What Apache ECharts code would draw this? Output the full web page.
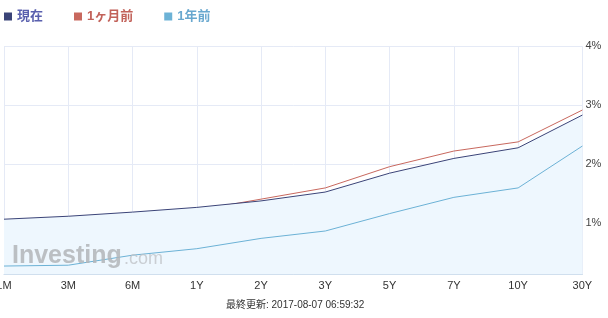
<!DOCTYPE html>
<html>
<head>
<meta charset="utf-8">
<script src="https://cdn.jsdelivr.net/npm/echarts@6/dist/echarts.min.js"></script>
<style>
html,body{margin:0;padding:0;background:#fff;}
#c{width:608px;height:318px;}
</style>
</head>
<body>
<div id="c"></div>
<script>
const categories = ['1M','3M','6M','1Y','2Y','3Y','5Y','7Y','10Y','30Y'];
const seriesNames = ['現在','1ヶ月前','1年前'];
const current   = [1.07, 1.12, 1.19, 1.27, 1.38, 1.53, 1.85, 2.10, 2.28, 2.835];
const monthAgo  = [0.95, 1.045, 1.15, 1.22, 1.41, 1.60, 1.96, 2.225, 2.38, 2.92];
const yearAgo   = [0.276, 0.29, 0.46, 0.57, 0.745, 0.87, 1.165, 1.44, 1.60, 2.31];
const yTicks = [1, 2, 3, 4];
const footer = '最終更新: 2017-08-07 06:59:32';

const FONT = '"Liberation Sans", Arial, "Noto Sans CJK JP", sans-serif';
const lineColors = ['#3b4478', '#c8685e', '#6cb2d6'];
const textColors = ['#5a60ae', '#c2625a', '#69a8cf'];

const chart = echarts.init(document.getElementById('c'), null, {renderer: 'canvas'});
chart.setOption({
  animation: false,
  backgroundColor: '#ffffff',
  textStyle: {fontFamily: FONT},
  legend: {
    left: 4, top: 10, padding: 0,
    icon: 'rect', itemWidth: 8, itemHeight: 8, itemGap: 31,
    textStyle: {fontSize: 13, fontWeight: 'bold', fontFamily: FONT},
    data: seriesNames.map((n, i) => ({name: n, itemStyle: {color: lineColors[i]}, textStyle: {color: textColors[i]}}))
  },
  grid: {left: 4, right: 25.6, top: 46.3, bottom: 43.7, containLabel: false, outerBoundsMode: 'none'},
  xAxis: {
    type: 'category', boundaryGap: false, data: categories,
    axisLine: {show: true, lineStyle: {color: '#c9d9ea', width: 1}},
    axisTick: {show: false},
    axisLabel: {color: '#333', fontSize: 11, margin: 6, fontFamily: FONT, showMinLabel: true, interval: 0, hideOverlap: false},
    splitLine: {show: true, lineStyle: {color: '#e5eaf6', width: 1}}
  },
  yAxis: {
    type: 'value', position: 'right', min: 0.136, max: 4, splitNumber: 4,
    axisLine: {show: false}, axisTick: {show: false},
    axisLabel: {
      color: '#444', fontSize: 11, margin: 3, fontFamily: FONT, showMinLabel: false,
      formatter: v => yTicks.includes(Math.round(v * 1000) / 1000) ? v + '%' : ''
    },
    splitLine: {show: true, lineStyle: {color: '#e5eaf6', width: 1}}
  },
  graphic: [
    {type: 'text', left: 12, top: 244, z: 100, silent: true,
     style: {text: 'Investing', font: 'bold 25px "Liberation Sans", Arial, sans-serif', fill: 'rgba(178,181,185,0.85)'}},
    {type: 'text', left: 124, top: 250, z: 100, silent: true,
     style: {text: '.com', font: '18px "Liberation Sans", Arial, sans-serif', fill: 'rgba(190,192,196,0.75)'}},
    {type: 'text', left: 226, top: 300, z: 100, silent: true,
     style: {text: footer, font: '10px "Liberation Sans", Arial, "Noto Sans CJK JP", sans-serif', fill: '#333'}}
  ],
  series: [
    {name: seriesNames[0], type: 'line', data: current, symbol: 'none', z: 4,
     lineStyle: {color: lineColors[0], width: 1}, itemStyle: {color: lineColors[0]},
     areaStyle: {color: '#eef7fe', opacity: 1, origin: 'start'}},
    {name: seriesNames[1], type: 'line', data: monthAgo, symbol: 'none', z: 3,
     lineStyle: {color: lineColors[1], width: 1}, itemStyle: {color: lineColors[1]}},
    {name: seriesNames[2], type: 'line', data: yearAgo, symbol: 'none', z: 5,
     lineStyle: {color: lineColors[2], width: 1}, itemStyle: {color: lineColors[2]}}
  ]
});
</script>
</body>
</html>
